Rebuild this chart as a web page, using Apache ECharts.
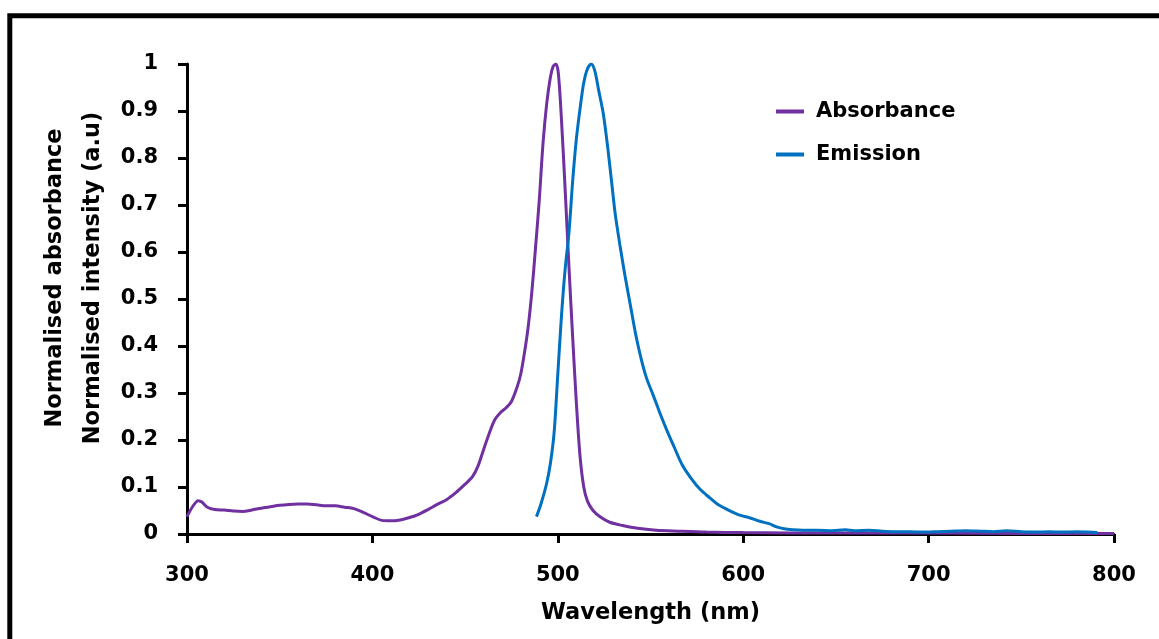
<!DOCTYPE html>
<html>
<head>
<meta charset="utf-8">
<style>
  html, body { margin: 0; padding: 0; background: #ffffff; }
  #chart { width: 1159px; height: 639px; }
</style>
<script src="https://cdn.jsdelivr.net/npm/echarts@6/dist/echarts.min.js"></script>
</head>
<body>
<div id="chart"></div>
<script>
// Absorbance spectrum (normalised)
const absWavelength = [300, 303, 306, 308, 311, 315, 320, 325, 330, 335, 340, 345, 350, 355, 360, 365, 370, 375, 380, 385, 390, 395, 400, 405, 410, 415, 420, 425, 430, 435, 440, 445, 450, 454, 457, 460, 463, 466, 469, 472, 475, 478, 480, 482, 484, 486, 488, 490, 492, 494, 496, 497.5, 499, 500.3, 502, 504, 506, 508, 510, 512, 514, 516, 519, 523, 528, 535, 543, 553, 565, 580, 600, 650, 700, 750, 800];
const absValues = [0.037, 0.058, 0.071, 0.068, 0.057, 0.052, 0.051, 0.049, 0.048, 0.051, 0.055, 0.058, 0.061, 0.063, 0.064, 0.064, 0.062, 0.060, 0.060, 0.057, 0.054, 0.046, 0.037, 0.029, 0.028, 0.030, 0.035, 0.042, 0.052, 0.063, 0.073, 0.088, 0.106, 0.122, 0.145, 0.180, 0.214, 0.243, 0.258, 0.268, 0.282, 0.312, 0.340, 0.385, 0.440, 0.515, 0.610, 0.710, 0.830, 0.915, 0.972, 0.995, 1.0, 0.98, 0.88, 0.73, 0.57, 0.42, 0.28, 0.165, 0.10, 0.07, 0.05, 0.036, 0.025, 0.018, 0.012, 0.008, 0.006, 0.004, 0.003, 0.002, 0.002, 0.001, 0.001];

// Emission spectrum (normalised)
const emWavelength = [488.5, 491, 494, 496, 498, 500, 502, 504, 506, 508, 510, 512, 514, 516, 518, 520, 522, 524.5, 527, 529, 531, 533.5, 536, 539, 542, 545, 548, 551.5, 555, 559, 563, 567, 572, 577, 582, 586, 590, 594, 598, 603, 609, 614, 618, 622, 627, 632, 640, 648, 655, 660, 668, 675, 682, 690, 698, 705, 712, 720, 728, 735, 742, 750, 758, 765, 772, 780, 786, 791];
const emValues = [0.037, 0.065, 0.108, 0.150, 0.215, 0.340, 0.465, 0.565, 0.640, 0.750, 0.840, 0.905, 0.960, 0.990, 1.0, 0.985, 0.945, 0.895, 0.82, 0.75, 0.68, 0.615, 0.555, 0.490, 0.425, 0.372, 0.330, 0.295, 0.258, 0.219, 0.183, 0.148, 0.118, 0.094, 0.077, 0.064, 0.055, 0.047, 0.040, 0.035, 0.027, 0.022, 0.015, 0.011, 0.009, 0.008, 0.008, 0.007, 0.009, 0.007, 0.008, 0.006, 0.005, 0.005, 0.004, 0.005, 0.006, 0.007, 0.006, 0.005, 0.007, 0.005, 0.004, 0.005, 0.004, 0.005, 0.004, 0.003];

const seriesNames = ['Absorbance', 'Emission'];
const seriesColors = ['#7030A0', '#0070C0'];
const xTicks = [300, 400, 500, 600, 700, 800];
const yTicks = [0, 0.1, 0.2, 0.3, 0.4, 0.5, 0.6, 0.7, 0.8, 0.9, 1];
const xTitle = 'Wavelength (nm)';
const yTitleLines = ['Normalised absorbance', 'Normalised intensity (a.u)'];

const pairs = (xs, ys) => xs.map((x, i) => [x, ys[i]]);
const FONT = '"DejaVu Sans", sans-serif';

const chart = echarts.init(document.getElementById('chart'), null, { renderer: 'canvas' });

const axisLine = { show: true, lineStyle: { color: '#000', width: 3 } };
const axisTick = { show: true, inside: false, length: 9, lineStyle: { color: '#000', width: 3 } };
const labelStyle = { color: '#000', fontFamily: FONT, fontWeight: 'bold', fontSize: 21 };
const titleStyle = { color: '#000', fontFamily: FONT, fontWeight: 'bold', fontSize: 22.5 };

chart.setOption({
  animation: false,
  backgroundColor: '#ffffff',
  grid: { left: 187, right: 45, top: 64, bottom: 105, containLabel: false },
  legend: {
    orient: 'vertical',
    left: 771,
    top: 96,
    itemGap: 22,
    itemWidth: 28,
    itemHeight: 4,
    icon: 'rect',
    textStyle: { color: '#000', fontFamily: FONT, fontWeight: 'bold', fontSize: 21, padding: [0, 0, 0, 7] },
    data: seriesNames
  },
  xAxis: {
    type: 'value',
    min: xTicks[0],
    max: xTicks[xTicks.length - 1],
    interval: 100,
    axisLine: axisLine,
    axisTick: axisTick,
    splitLine: { show: false },
    axisLabel: Object.assign({ margin: 31 }, labelStyle),
    name: xTitle,
    nameLocation: 'middle',
    nameGap: 68,
    nameTextStyle: titleStyle
  },
  yAxis: {
    type: 'value',
    min: yTicks[0],
    max: yTicks[yTicks.length - 1],
    interval: 0.1,
    axisLine: axisLine,
    axisTick: axisTick,
    splitLine: { show: false },
    axisLabel: Object.assign({ margin: 29, formatter: v => String(Math.round(v * 10) / 10) }, labelStyle)
  },
  graphic: [
    {
      type: 'rect',
      silent: true,
      shape: { x: 9.8, y: 15.8, width: 1300, height: 800 },
      style: { fill: 'none', stroke: '#000', lineWidth: 5 }
    },
    {
      type: 'text',
      silent: true,
      x: 55, y: 278, rotation: Math.PI / 2,
      style: { text: yTitleLines[0], fill: '#000', font: 'bold 22.5px ' + FONT, align: 'center', verticalAlign: 'middle' }
    },
    {
      type: 'text',
      silent: true,
      x: 93, y: 278, rotation: Math.PI / 2,
      style: { text: yTitleLines[1], fill: '#000', font: 'bold 22.5px ' + FONT, align: 'center', verticalAlign: 'middle' }
    }
  ],
  series: [
    {
      name: seriesNames[0],
      type: 'line',
      data: pairs(absWavelength, absValues),
      showSymbol: false,
      smooth: 0.3,
      lineStyle: { color: seriesColors[0], width: 3 },
      itemStyle: { color: seriesColors[0] }
    },
    {
      name: seriesNames[1],
      type: 'line',
      data: pairs(emWavelength, emValues),
      showSymbol: false,
      smooth: 0.3,
      lineStyle: { color: seriesColors[1], width: 3 },
      itemStyle: { color: seriesColors[1] }
    }
  ]
});
</script>
</body>
</html>
